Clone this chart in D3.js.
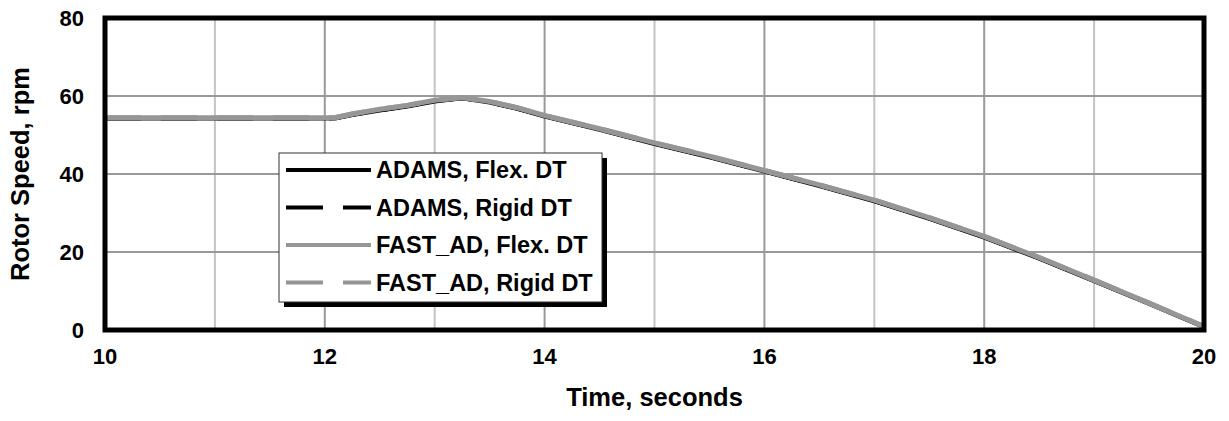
<!DOCTYPE html>
<meta charset="utf-8">
<style>
body { margin: 0; background: #fff; }
text { font-family: "Liberation Sans", Arial, sans-serif; font-weight: bold; fill: #000; }
</style>
<svg width="1229" height="421"></svg>
<script src="https://d3js.org/d3.v7.min.js"></script>
<script>

// time, seconds
var time = [10, 11, 12, 12.1, 12.25, 12.5, 12.75, 13, 13.25, 13.5, 13.75, 14, 14.5, 15, 15.5, 16, 16.5, 17, 17.5, 18, 18.5, 19, 19.5, 20];

// rotor speed, rpm
var adamsFlex  = [54.2, 54.2, 54.2, 54.3, 55.1, 56.3, 57.3, 58.6, 59.4, 58.3, 56.7, 54.7, 51.3, 47.7, 44.3, 40.6, 36.9, 33.0, 28.5, 23.7, 18.3, 12.5, 6.7, 0.7];
var adamsRigid = [54.2, 54.2, 54.2, 54.3, 55.2, 56.3, 57.4, 58.7, 59.4, 58.4, 56.8, 54.8, 51.4, 47.8, 44.4, 40.7, 37.0, 33.1, 28.6, 23.8, 18.4, 12.6, 6.8, 0.8];
var fastFlex   = [54.4, 54.4, 54.4, 54.5, 55.4, 56.6, 57.6, 58.9, 59.6, 58.6, 57.0, 55.0, 51.6, 48.0, 44.6, 40.9, 37.2, 33.3, 28.8, 24.0, 18.6, 12.8, 6.9, 0.9];
var fastRigid  = [54.4, 54.4, 54.4, 54.5, 55.4, 56.6, 57.6, 58.9, 59.6, 58.6, 57.0, 55.0, 51.6, 48.0, 44.6, 40.9, 37.2, 33.3, 28.8, 24.0, 18.6, 12.8, 6.9, 0.9];

var xTicks = [10, 12, 14, 16, 18, 20];
var yTicks = [0, 20, 40, 60, 80];
var xGrid = [11, 12, 13, 14, 15, 16, 17, 18, 19];
var yGrid = [20, 40, 60];

var seriesNames = ["ADAMS, Flex. DT", "ADAMS, Rigid DT", "FAST_AD, Flex. DT", "FAST_AD, Rigid DT"];
var seriesValues = [adamsFlex, adamsRigid, fastFlex, fastRigid];
var seriesColour = ["#000", "#000", "#969696", "#969696"];
var seriesWidth = [4, 4, 5, 5];
var seriesDash = [null, "36,20", null, "36,20"];

var svg = d3.select("svg");
var plotLeft = 105, plotRight = 1204, plotTop = 18, plotBottom = 330;

var x = d3.scaleLinear().domain([10, 20]).range([plotLeft, plotRight]);
var y = d3.scaleLinear().domain([0, 80]).range([plotBottom, plotTop]);

// gridlines
svg.append("g").selectAll("line")
    .data(xGrid)
    .enter().append("line")
    .attr("x1", function(d) { return x(d); })
    .attr("x2", function(d) { return x(d); })
    .attr("y1", plotTop)
    .attr("y2", plotBottom)
    .attr("stroke", function(d) { return d % 2 == 0 ? "#999" : "#c4c4c4"; })
    .attr("stroke-width", 2);

svg.append("g").selectAll("line")
    .data(yGrid)
    .enter().append("line")
    .attr("x1", plotLeft)
    .attr("x2", plotRight)
    .attr("y1", function(d) { return y(d); })
    .attr("y2", function(d) { return y(d); })
    .attr("stroke", "#999")
    .attr("stroke-width", 2);

// series
var line = d3.line()
    .x(function(d, i) { return x(time[i]); })
    .y(function(d) { return y(d); });

seriesValues.forEach(function(vals, k) {
  svg.append("path")
      .datum(vals)
      .attr("d", line)
      .attr("fill", "none")
      .attr("stroke", seriesColour[k])
      .attr("stroke-width", seriesWidth[k])
      .attr("stroke-dasharray", seriesDash[k])
      .attr("stroke-linejoin", "round");
});

// plot frame
svg.append("rect")
    .attr("x", plotLeft)
    .attr("y", plotTop)
    .attr("width", plotRight - plotLeft)
    .attr("height", plotBottom - plotTop)
    .attr("fill", "none")
    .attr("stroke", "#000")
    .attr("stroke-width", 5);

// tick labels
svg.append("g").selectAll("text")
    .data(yTicks)
    .enter().append("text")
    .attr("x", 84)
    .attr("y", function(d) { return y(d); })
    .attr("dy", "0.36em")
    .attr("text-anchor", "end")
    .style("font-size", "22px")
    .text(function(d) { return d; });

svg.append("g").selectAll("text")
    .data(xTicks)
    .enter().append("text")
    .attr("x", function(d) { return x(d); })
    .attr("y", 356)
    .attr("dy", "0.36em")
    .attr("text-anchor", "middle")
    .style("font-size", "22px")
    .text(function(d) { return d; });

// axis titles
svg.append("text")
    .attr("x", (plotLeft + plotRight) / 2)
    .attr("y", 397)
    .attr("dy", "0.36em")
    .attr("text-anchor", "middle")
    .style("font-size", "25.5px")
    .text("Time, seconds");

svg.append("text")
    .attr("transform", "translate(20," + (plotTop + plotBottom) / 2 + ") rotate(-90)")
    .attr("dy", "0.36em")
    .attr("text-anchor", "middle")
    .style("font-size", "25.5px")
    .text("Rotor Speed, rpm");

// legend
var lg = svg.append("g").attr("transform", "translate(279,153)");
lg.append("rect")
    .attr("x", 5).attr("y", 5)
    .attr("width", 323).attr("height", 149)
    .attr("fill", "#000");
lg.append("rect")
    .attr("width", 323).attr("height", 149)
    .attr("fill", "#fff")
    .attr("stroke", "#333")
    .attr("stroke-width", 1);

var rows = lg.selectAll("g.row")
    .data(seriesNames)
    .enter().append("g")
    .attr("class", "row")
    .attr("transform", function(d, i) { return "translate(0," + (17 + i * 37.5) + ")"; });

rows.append("line")
    .attr("x1", 7).attr("x2", 92)
    .attr("stroke", function(d, i) { return seriesColour[i]; })
    .attr("stroke-width", 4)
    .attr("stroke-dasharray", function(d, i) { return seriesDash[i] ? "37,20" : null; });

rows.append("text")
    .attr("x", 97)
    .attr("dy", "0.36em")
    .style("font-size", "23.5px")
    .text(function(d) { return d; });

</script>
